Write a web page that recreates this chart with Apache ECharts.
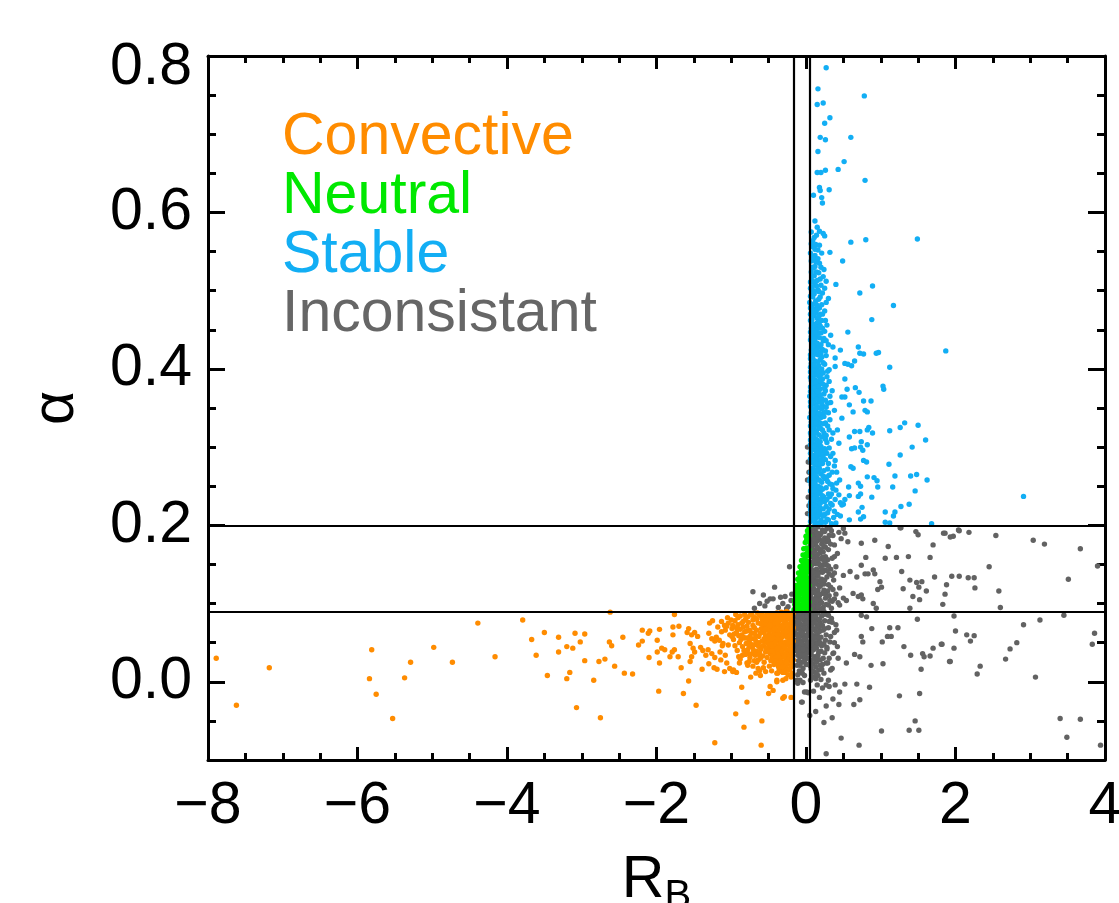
<!DOCTYPE html>
<html>
<head>
<meta charset="utf-8">
<title>Stability classes: alpha vs bulk Richardson number</title>
<script src="https://cdn.jsdelivr.net/npm/echarts@6/dist/echarts.min.js"></script>
<style>
  html, body { margin: 0; padding: 0; background: #ffffff; }
  #chart { width: 1119px; height: 903px; }
</style>
</head>
<body>
<div id="chart"></div>
<script>
// ---- class names and colours ----
const classNames = ['Convective', 'Neutral', 'Stable', 'Inconsistant'];
const classColors = ['#FF8C00', '#00F000', '#12AEF4', '#626262'];
const legendColors = ['#FF8C00', '#00E800', '#12AEF4', '#666666'];

// ---- axis ranges and tick labels ----
const xRange = [-8, 4];
const yRange = [-0.1, 0.8];
const xMajorStep = 2;
const yMajorLabels = [0, 0.2, 0.4, 0.6, 0.8];
const yMinorStep = 0.05;

// ---- classification thresholds ----
const rbThresholds = [-0.17, 0.05];
const alphaThresholds = [0.09, 0.2];

// ---- Stable (R_B > threshold, alpha > 0.2): dense core ----
const stableCore = [
  [0.07,0.575],[0.11,0.568],[0.14,0.571],[0.09,0.556],[0.16,0.552],[0.12,0.545],[0.21,0.548],[0.07,0.538],[0.18,0.535],[0.10,0.529],
  [0.14,0.524],[0.24,0.527],[0.08,0.518],[0.19,0.515],[0.12,0.509],[0.27,0.512],[0.06,0.503],[0.16,0.501],[0.22,0.497],[0.09,0.492],
  [0.13,0.487],[0.30,0.490],[0.07,0.480],[0.18,0.478],[0.25,0.474],
  [0.06,0.470],[0.10,0.468],[0.15,0.465],[0.21,0.462],[0.08,0.458],[0.12,0.455],[0.17,0.452],[0.28,0.456],[0.06,0.447],[0.11,0.444],
  [0.14,0.441],[0.20,0.446],[0.24,0.439],[0.33,0.443],[0.08,0.435],[0.13,0.432],[0.17,0.429],[0.07,0.424],[0.10,0.421],[0.16,0.418],
  [0.22,0.425],[0.27,0.417],[0.06,0.413],[0.12,0.410],[0.19,0.412],[0.09,0.404],[0.14,0.401],[0.25,0.406],[0.31,0.399],[0.06,0.396],
  [0.11,0.393],[0.18,0.390],[0.08,0.463],[0.13,0.472],[0.18,0.440],[0.23,0.408],[0.10,0.433],[0.15,0.476],[0.36,0.428],[0.07,0.385],
  [0.12,0.386],[0.16,0.382],[0.22,0.387],[0.27,0.379],[0.06,0.377],[0.09,0.373],[0.14,0.370],[0.19,0.374],[0.24,0.368],[0.35,0.372],
  [0.07,0.364],[0.11,0.361],[0.17,0.358],[0.21,0.362],[0.29,0.356],[0.06,0.352],[0.09,0.349],[0.13,0.346],[0.18,0.350],[0.23,0.343],
  [0.38,0.347],[0.08,0.339],[0.12,0.336],[0.16,0.333],[0.20,0.338],[0.26,0.331],[0.32,0.335],[0.06,0.327],[0.10,0.324],[0.14,0.321],
  [0.19,0.325],[0.24,0.318],[0.42,0.322],[0.07,0.315],[0.11,0.312],[0.15,0.309],[0.21,0.313],[0.28,0.306],[0.34,0.310],[0.06,0.303],
  [0.09,0.300],[0.13,0.297],[0.17,0.301],[0.22,0.295],[0.10,0.380],[0.15,0.365],[0.08,0.355],[0.26,0.360],[0.12,0.342],[0.30,0.344],
  [0.09,0.330],[0.17,0.316],[0.12,0.304],[0.25,0.298],[0.44,0.305],[0.31,0.384],[0.07,0.390],[0.19,0.361],[0.05,0.338],[0.36,0.318],
  [0.06,0.292],[0.10,0.289],[0.15,0.286],[0.19,0.290],[0.26,0.284],[0.33,0.288],[0.07,0.280],[0.12,0.277],[0.17,0.274],[0.22,0.279],
  [0.29,0.272],[0.38,0.276],[0.06,0.268],[0.09,0.265],[0.14,0.262],[0.20,0.266],[0.25,0.260],[0.31,0.264],[0.08,0.256],[0.12,0.253],
  [0.16,0.250],[0.21,0.255],[0.27,0.248],[0.35,0.252],[0.45,0.258],[0.06,0.244],[0.10,0.241],[0.14,0.238],[0.19,0.243],[0.24,0.236],
  [0.30,0.240],[0.40,0.245],[0.07,0.232],[0.11,0.229],[0.16,0.226],[0.21,0.231],[0.27,0.224],[0.33,0.228],[0.52,0.233],[0.06,0.220],
  [0.09,0.217],[0.13,0.214],[0.18,0.219],[0.23,0.212],[0.29,0.216],[0.37,0.210],[0.08,0.208],[0.12,0.205],[0.16,0.203],[0.20,0.207],
  [0.26,0.204],[0.34,0.202],[0.42,0.214],[0.10,0.297],[0.13,0.270],[0.09,0.247],[0.18,0.233],[0.11,0.222],[0.24,0.270],[0.15,0.258],
  [0.48,0.226],[0.57,0.249],[0.41,0.268],[0.07,0.210],[0.22,0.246],[0.14,0.210],[0.32,0.237],[0.05,0.257],[0.44,0.239],[0.36,0.292],
  [0.08,0.495],[0.11,0.483],[0.06,0.462],[0.13,0.450],[0.09,0.438],[0.16,0.427],[0.06,0.418],[0.12,0.397],[0.17,0.404],[0.09,0.388],
  [0.14,0.377],[0.08,0.367],[0.12,0.355],[0.16,0.341],[0.07,0.344],[0.10,0.334],[0.14,0.328],[0.08,0.320],[0.12,0.318],[0.16,0.306],
  [0.07,0.296],[0.12,0.284],[0.17,0.281],[0.09,0.273],[0.16,0.268],[0.11,0.260],[0.07,0.252],[0.18,0.258],[0.13,0.244],[0.08,0.237],
  [0.15,0.232],[0.10,0.225],[0.19,0.222],[0.06,0.214],[0.15,0.218],[0.10,0.211],[0.18,0.202],[0.06,0.205],[0.13,0.291],[0.19,0.296],
  [0.08,0.302],[0.19,0.331],[0.05,0.365],[0.10,0.357],[0.06,0.402],[0.11,0.428],[0.14,0.458],[0.05,0.485],[0.09,0.512],[0.17,0.523],
  [0.06,0.548],[0.10,0.541],[0.13,0.559],[0.08,0.530],[0.15,0.537],[0.11,0.519],[0.06,0.511],[0.14,0.506],[0.20,0.507],[0.10,0.500],
  [0.17,0.489],[0.06,0.493],[0.12,0.476],[0.21,0.482],[0.09,0.470],[0.16,0.460],[0.19,0.470],[0.07,0.452],[0.10,0.449],[0.15,0.446],
  [0.22,0.452],[0.06,0.437],[0.12,0.438],[0.15,0.433],[0.20,0.431],[0.08,0.427],[0.13,0.419],[0.19,0.421],[0.09,0.414],[0.16,0.409],
  [0.21,0.400],[0.07,0.407],[0.10,0.398],[0.14,0.392],[0.20,0.393],[0.06,0.389],[0.11,0.375],[0.17,0.378],[0.07,0.371],[0.13,0.362],
  [0.19,0.367],[0.06,0.358],[0.10,0.345],[0.15,0.352],[0.21,0.349],[0.07,0.332],[0.14,0.338],[0.18,0.324],[0.06,0.318],[0.10,0.313],
  [0.13,0.310],[0.19,0.307],[0.08,0.307],[0.15,0.297],[0.06,0.285],[0.09,0.282],[0.14,0.279],[0.20,0.284],[0.08,0.269],[0.12,0.264],
  [0.18,0.272],[0.06,0.260],[0.10,0.254],[0.14,0.250],[0.20,0.248],[0.07,0.244],[0.12,0.236],[0.17,0.240],[0.06,0.229],[0.09,0.226],
  [0.14,0.224],[0.20,0.214],[0.08,0.216],[0.12,0.201],[0.16,0.212],[0.23,0.221],[0.25,0.230],[0.28,0.262],[0.23,0.289],[0.27,0.315],
  [0.24,0.330],[0.22,0.353],[0.26,0.372],[0.23,0.395],[0.20,0.419],[0.23,0.436],[0.18,0.460],[0.17,0.499],[0.13,0.537],[0.09,0.564],
  [0.32,0.253],[0.35,0.226],[0.30,0.207],[0.39,0.233],[0.28,0.292],[0.31,0.322],[0.26,0.345],[0.29,0.397],[0.27,0.436],[0.08,0.477],
  [0.07,0.560],[0.12,0.553],[0.18,0.558],[0.09,0.543],[0.16,0.541],[0.20,0.530],[0.07,0.524],[0.12,0.531],[0.23,0.518],[0.08,0.505],
  [0.15,0.513],[0.25,0.503],[0.11,0.496],[0.19,0.492],[0.27,0.485],[0.06,0.478],[0.14,0.482],[0.22,0.470],[0.10,0.474],[0.26,0.462],
  [0.17,0.467],[0.07,0.441],[0.12,0.447],[0.19,0.455],[0.25,0.448],[0.30,0.431],[0.09,0.429],[0.14,0.424],[0.21,0.415],[0.26,0.423],
  [0.07,0.416],[0.11,0.405],[0.17,0.397],[0.22,0.381],[0.28,0.390],[0.08,0.394],[0.13,0.383],[0.18,0.385],[0.25,0.376],[0.32,0.365],
  [0.06,0.371],[0.10,0.366],[0.16,0.371],[0.21,0.356],[0.27,0.351],[0.33,0.357],[0.07,0.357],[0.12,0.349],[0.18,0.343],[0.24,0.339],
  [0.29,0.327],[0.09,0.342],[0.13,0.331],[0.22,0.322],[0.26,0.310],[0.31,0.299],[0.06,0.309],[0.11,0.301],[0.16,0.292],[0.20,0.301],
  [0.26,0.294],[0.30,0.279],[0.08,0.289],[0.14,0.271],[0.19,0.278],[0.23,0.263],[0.29,0.256],[0.35,0.268],[0.07,0.261],[0.12,0.245],
  [0.17,0.248],[0.22,0.238],[0.28,0.233],[0.34,0.240],[0.09,0.233],[0.13,0.219],[0.19,0.228],[0.25,0.214],[0.31,0.221],[0.38,0.218],
  [0.06,0.224],[0.11,0.207],[0.17,0.217],[0.22,0.204],[0.28,0.208],[0.40,0.203],[0.46,0.212],[0.36,0.247],[0.39,0.283],[0.41,0.254]
];

// ---- Stable: scattered points ----
const stableSpread = [
  [0.27,0.785],[0.16,0.758],[0.78,0.749],[0.15,0.738],[0.23,0.740],[0.32,0.721],[0.25,0.714],[0.19,0.696],[0.26,0.693],[0.60,0.696],
  [0.16,0.678],[0.51,0.665],[0.15,0.651],[0.20,0.651],[0.26,0.654],[0.43,0.655],[0.79,0.641],[0.18,0.632],[0.19,0.628],[0.31,0.629],
  [0.10,0.622],[0.21,0.619],[0.22,0.612],[0.12,0.589],[0.15,0.581],[0.18,0.576],[0.23,0.573],[0.25,0.570],[0.60,0.562],[0.80,0.565],
  [1.49,0.566],[0.49,0.538],[0.32,0.549],[0.89,0.506],[0.72,0.497],[0.40,0.508],[1.17,0.481],[0.88,0.463],[0.56,0.447],[1.87,0.423],
  [0.70,0.428],[0.72,0.420],[0.77,0.419],[0.46,0.424],[0.94,0.420],[0.97,0.421],[0.52,0.407],[0.56,0.406],[0.61,0.404],[0.65,0.410],
  [1.12,0.402],[0.39,0.414],[0.39,0.403],[1.03,0.378],[1.04,0.374],[0.52,0.387],[0.66,0.376],[0.71,0.370],[0.55,0.374],[0.48,0.364],
  [0.52,0.364],[0.77,0.359],[0.87,0.359],[0.58,0.354],[0.79,0.347],[0.82,0.345],[0.63,0.345],[0.48,0.337],[1.32,0.331],[1.26,0.325],
  [1.50,0.328],[1.12,0.321],[0.84,0.325],[0.82,0.322],[0.89,0.318],[0.65,0.320],[0.72,0.320],[0.58,0.313],[1.60,0.309],[1.42,0.300],
  [0.74,0.307],[0.73,0.300],[0.76,0.296],[0.82,0.303],[0.61,0.298],[0.65,0.299],[1.26,0.290],[0.77,0.283],[0.81,0.281],[1.11,0.278],
  [0.60,0.275],[0.63,0.273],[1.19,0.263],[1.40,0.263],[1.48,0.265],[1.62,0.258],[0.82,0.262],[0.91,0.261],[0.95,0.257],[0.70,0.254],
  [0.73,0.250],[0.96,0.249],[1.16,0.249],[1.46,0.244],[0.88,0.236],[0.70,0.237],[0.73,0.240],[0.58,0.238],[1.38,0.227],[1.27,0.224],
  [1.19,0.217],[1.17,0.212],[1.06,0.217],[0.75,0.223],[0.70,0.217],[0.77,0.211],[0.73,0.208],[0.58,0.207],[0.50,0.227],[0.46,0.229],
  [1.12,0.203],[1.06,0.204],[1.68,0.202],[2.91,0.237]
];

// ---- Neutral (between R_B thresholds, 0.09 < alpha < 0.2) ----
const neutralPoints = [
  [-0.16,0.092],[-0.12,0.093],[-0.08,0.091],[-0.04,0.094],[0.00,0.092],[0.04,0.093],[-0.15,0.099],[-0.11,0.100],[-0.07,0.098],[-0.03,0.101],
  [0.01,0.099],[0.04,0.102],[-0.14,0.107],[-0.10,0.108],[-0.06,0.106],[-0.02,0.109],[0.02,0.107],[-0.14,0.115],[-0.10,0.116],[-0.05,0.114],
  [-0.01,0.117],[0.03,0.115],[-0.13,0.123],[-0.09,0.124],[-0.04,0.122],[0.00,0.125],[0.04,0.123],[-0.11,0.131],[-0.07,0.132],[-0.03,0.130],
  [0.01,0.133],[-0.10,0.139],[-0.06,0.140],[-0.02,0.138],[0.03,0.141],[-0.08,0.147],[-0.04,0.148],[0.00,0.146],[0.04,0.149],[-0.06,0.155],
  [-0.02,0.156],[0.02,0.154],[-0.04,0.162],[0.00,0.163],[0.04,0.161],[-0.03,0.170],[0.01,0.171],[0.04,0.169],[-0.01,0.178],[0.03,0.179],
  [0.00,0.186],[0.04,0.187],[0.02,0.193],[0.04,0.198],[-0.15,0.104],[-0.12,0.119],[0.02,0.120],
  [-0.14,0.096],[-0.10,0.096],[-0.06,0.095],[-0.02,0.097],[0.02,0.096],[-0.13,0.103],[-0.09,0.104],[-0.04,0.104],[0.00,0.103],[-0.12,0.111],
  [-0.08,0.112],[-0.03,0.111],[0.01,0.112],[-0.11,0.120],[-0.07,0.119],[-0.02,0.121],[-0.09,0.128],[-0.05,0.127],[0.02,0.128],[-0.08,0.135],
  [-0.04,0.135],[0.00,0.137],[-0.06,0.143],[-0.02,0.143],[0.02,0.146],[-0.04,0.152],[0.00,0.152],[-0.01,0.159],[0.02,0.165],[0.01,0.182],
  [0.03,0.190]
];

// ---- Convective (R_B < threshold, alpha < 0.09): dense core ----
const convectiveCore = [
  [-0.19,0.087],[-0.24,0.085],[-0.30,0.088],[-0.36,0.086],[-0.42,0.084],[-0.48,0.087],[-0.55,0.083],[-0.21,0.080],[-0.27,0.078],[-0.33,0.081],
  [-0.39,0.077],[-0.45,0.079],[-0.51,0.076],[-0.58,0.078],[-0.18,0.073],[-0.23,0.071],[-0.29,0.074],[-0.35,0.070],[-0.41,0.072],[-0.47,0.069],
  [-0.53,0.071],[-0.60,0.068],[-0.20,0.065],[-0.26,0.063],[-0.31,0.066],[-0.37,0.062],[-0.43,0.064],[-0.49,0.061],[-0.56,0.063],[-0.18,0.058],
  [-0.22,0.056],[-0.28,0.059],[-0.34,0.055],[-0.40,0.057],[-0.46,0.053],[-0.52,0.056],[-0.59,0.052],[-0.20,0.049],[-0.25,0.047],[-0.31,0.050],
  [-0.37,0.046],[-0.43,0.048],[-0.50,0.044],[-0.57,0.046],[-0.18,0.041],[-0.23,0.039],[-0.29,0.042],[-0.35,0.038],[-0.41,0.040],[-0.48,0.036],
  [-0.54,0.038],[-0.21,0.032],[-0.27,0.030],[-0.33,0.033],[-0.39,0.029],[-0.45,0.031],[-0.19,0.024],[-0.25,0.022],[-0.31,0.025],[-0.37,0.020],
  [-0.22,0.015],[-0.28,0.012],[-0.20,0.006],[-0.33,0.089],[-0.26,0.090],
  [-0.22,0.083],[-0.28,0.076],[-0.34,0.084],[-0.38,0.073],[-0.44,0.075],[-0.50,0.081],[-0.24,0.068],[-0.30,0.061],[-0.36,0.058],[-0.42,0.060],
  [-0.47,0.066],[-0.54,0.059],[-0.21,0.053],[-0.27,0.051],[-0.33,0.044],[-0.39,0.053],[-0.44,0.042],[-0.51,0.049],[-0.24,0.036],[-0.30,0.035],
  [-0.36,0.041],[-0.42,0.034],[-0.23,0.027],[-0.29,0.020],[-0.35,0.027],[-0.41,0.024],[-0.26,0.016],[-0.33,0.016],[-0.18,0.035],[-0.18,0.066],
  [-0.18,0.080],
  [-0.62,0.085],[-0.68,0.082],[-0.74,0.086],[-0.81,0.080],[-0.88,0.084],[-0.95,0.078],[-0.64,0.075],[-0.71,0.072],[-0.77,0.076],[-0.84,0.070],
  [-0.91,0.073],[-0.99,0.068],[-0.66,0.066],[-0.73,0.062],[-0.79,0.065],[-0.86,0.060],[-0.93,0.063],[-0.63,0.058],[-0.69,0.055],[-0.76,0.052],
  [-0.82,0.056],[-0.89,0.050],[-0.97,0.054],[-0.65,0.047],[-0.72,0.044],[-0.78,0.041],[-0.85,0.045],[-0.92,0.040],[-0.62,0.038],[-0.68,0.034],
  [-0.75,0.031],[-0.81,0.035],[-0.88,0.029],[-0.66,0.025],[-0.71,0.020],[-0.79,0.024],[-0.61,0.030],[-0.67,0.011],[-0.74,0.006],[-1.05,0.082],
  [-1.02,0.060],[-1.08,0.066],[-1.12,0.046],[-1.04,0.047],[-1.18,0.070],[-1.25,0.078],[-1.20,0.057],
  [-0.17,0.088],[-0.27,0.086],[-0.39,0.088],[-0.45,0.086],[-0.52,0.087],[-0.58,0.085],[-0.20,0.076],[-0.25,0.082],[-0.31,0.079],[-0.36,0.077],
  [-0.42,0.080],[-0.48,0.076],[-0.55,0.074],[-0.17,0.069],[-0.22,0.063],[-0.27,0.070],[-0.32,0.072],[-0.39,0.066],[-0.44,0.069],[-0.51,0.066],
  [-0.57,0.069],[-0.19,0.061],[-0.25,0.057],[-0.33,0.061],[-0.38,0.055],[-0.45,0.058],[-0.50,0.054],[-0.55,0.051],[-0.17,0.052],[-0.22,0.046],
  [-0.28,0.048],[-0.34,0.050],[-0.40,0.045],[-0.46,0.044],[-0.53,0.043],[-0.19,0.036],[-0.26,0.041],[-0.32,0.038],[-0.38,0.035],[-0.44,0.036],
  [-0.50,0.039],[-0.17,0.028],[-0.22,0.034],[-0.28,0.026],[-0.34,0.030],[-0.40,0.031],[-0.47,0.027],[-0.20,0.019],[-0.25,0.028],[-0.31,0.012],
  [-0.36,0.017],[-0.43,0.022],[-0.18,0.011],[-0.24,0.009],[-0.27,0.004],[-0.65,0.088],[-0.71,0.079],[-0.78,0.083],[-0.84,0.077],[-0.91,0.082],
  [-0.69,0.069],[-0.75,0.066],[-0.82,0.064],[-0.88,0.067],[-0.96,0.061],[-0.61,0.062],[-0.67,0.059],[-0.73,0.055],[-0.80,0.049],[-0.87,0.054],
  [-0.63,0.050],[-0.70,0.047],[-0.76,0.045],[-0.83,0.040],[-0.60,0.042],[-0.66,0.039],[-0.72,0.036],[-0.64,0.028],[-0.69,0.027],[-0.58,0.033],
  [-0.56,0.025],[-0.52,0.031],[-0.49,0.020],[-0.54,0.013],[-0.61,0.008],[-0.57,0.018],[-0.46,0.014],[-1.00,0.079],[-1.06,0.071],[-0.99,0.058],
  [-0.18,0.084],[-0.23,0.088],[-0.29,0.083],[-0.35,0.080],[-0.40,0.083],[-0.46,0.082],[-0.53,0.079],[-0.59,0.081],[-0.19,0.070],[-0.25,0.074],
  [-0.31,0.070],[-0.36,0.067],[-0.42,0.068],[-0.48,0.072],[-0.55,0.067],[-0.21,0.060],[-0.27,0.064],[-0.32,0.057],[-0.38,0.060],[-0.44,0.055],
  [-0.49,0.058],[-0.56,0.055],[-0.19,0.045],[-0.24,0.051],[-0.30,0.045],[-0.35,0.048],[-0.41,0.051],[-0.47,0.048],[-0.21,0.040],[-0.27,0.036],
  [-0.33,0.039],[-0.38,0.043],[-0.45,0.039],[-0.23,0.031],[-0.29,0.032],[-0.37,0.033],[-0.43,0.027],[-0.19,0.029],[-0.26,0.024],[-0.33,0.022],
  [-0.66,0.080],[-0.72,0.085],[-0.79,0.071],[-0.86,0.075],[-0.93,0.069],[-0.69,0.062],[-0.75,0.058],[-0.84,0.057],[-0.90,0.059],[-0.67,0.052],
  [-0.74,0.048],[-0.79,0.056],[-0.70,0.040],[-0.77,0.036],[-0.85,0.034],[-0.63,0.045],[-0.60,0.074],[-0.63,0.035],[-0.95,0.046],[-0.82,0.086]
];

// ---- Convective: scattered points ----
const convectiveSpread = [
  [-7.89,0.030],[-7.62,-0.030],[-7.18,0.018],[-5.81,0.041],[-5.84,0.004],[-5.75,-0.016],[-5.53,-0.047],[-5.37,0.005],[-5.29,0.025],[-4.98,0.044],
  [-4.73,0.025],[-4.39,0.075],[-4.16,0.032],[-3.79,0.079],[-3.67,0.054],[-3.50,0.063],[-3.61,0.034],[-3.46,0.008],[-3.31,0.057],[-3.31,0.038],
  [-3.07,-0.033],[-2.75,-0.046],
  [-1.76,0.086],[-0.94,0.086],[-2.62,0.089],[-3.09,0.062],[-2.96,0.061],[-3.02,0.051],[-3.20,0.045],[-3.12,0.043],[-2.96,0.027],[-2.77,0.026],
  [-2.69,0.029],[-2.56,0.020],[-3.16,0.012],[-3.20,0.004],[-2.84,0.002],[-2.43,0.011],[-2.32,0.010],[-2.63,0.051],[-2.60,0.046],[-2.45,0.057],
  [-2.19,0.066],[-2.11,0.062],[-2.09,0.065],[-2.24,0.047],[-2.19,0.052],[-1.99,0.053],[-1.96,0.067],[-1.99,0.038],[-1.93,0.043],[-1.89,0.041],
  [-2.10,0.031],[-1.96,0.024],[-1.78,0.070],[-1.70,0.071],[-1.78,0.060],[-1.76,0.041],[-1.79,0.038],[-1.82,0.032],[-1.71,0.032],[-1.67,0.018],
  [-1.57,0.068],[-1.59,0.063],[-1.53,0.060],[-1.49,0.063],[-1.45,0.058],[-1.55,0.049],[-1.51,0.043],[-1.49,0.038],[-1.53,0.032],[-1.55,0.026],
  [-1.57,0.001],[-1.97,-0.012],[-1.64,-0.015],[-1.47,-0.030],[-1.39,0.016],[-1.29,0.075],[-1.30,0.062],[-1.26,0.055],[-1.22,0.052],[-1.41,0.044],
  [-1.38,0.040],[-1.31,0.041],[-1.34,0.034],[-1.26,0.036],[-1.22,0.031],[-1.30,0.023],[-1.23,0.018],[-1.19,0.016],[-1.13,0.077],[-1.09,0.072],
  [-1.04,0.075],[-0.98,0.072],[-1.13,0.064],[-1.16,0.053],[-1.11,0.049],[-1.15,0.038],[-1.08,0.034],[-1.14,0.028],[-1.06,0.024],[-1.02,0.017],
  [-1.09,0.013],[-0.97,0.015],[-0.89,0.024],[-0.90,0.032],[-0.86,-0.007],[-0.79,-0.026],[-0.94,-0.041],[-0.83,-0.058],[-0.59,-0.050],[-0.60,-0.081],
  [-1.22,-0.078],[-0.64,0.017],[-0.62,0.014],[-0.48,-0.006],[-0.50,-0.015],[-0.44,-0.011],[-0.39,0.011],[-0.39,0.002],[-0.36,0.013],[-0.31,0.002],
  [-0.22,0.016],[-0.29,-0.019],[-0.20,-0.020],[-0.76,0.026],[-0.78,0.021],[-0.93,0.012],[-0.98,0.013],[-0.35,0.024],[-0.31,0.019],[-0.38,0.011],
  [-0.39,0.000],[-0.31,-0.021]
];

// ---- Inconsistant: column between the R_B thresholds, alpha < 0.09 ----
const inconsistentColumn = [
  [-0.15,0.086],[-0.10,0.087],[-0.05,0.085],[0.00,0.086],[0.04,0.087],[-0.13,0.080],[-0.08,0.081],[-0.03,0.079],[0.02,0.080],[-0.16,0.074],
  [-0.11,0.075],[-0.06,0.073],[-0.01,0.074],[0.04,0.072],[-0.14,0.067],[-0.09,0.068],[-0.04,0.066],[0.01,0.067],[-0.16,0.060],[-0.12,0.061],
  [-0.07,0.059],[-0.02,0.060],[0.03,0.061],[-0.14,0.053],[-0.09,0.054],[-0.05,0.052],[0.00,0.053],[0.04,0.051],[-0.12,0.046],[-0.07,0.045],
  [-0.03,0.047],[0.02,0.045],[-0.10,0.039],[-0.05,0.038],[-0.01,0.040],[0.03,0.037],[-0.13,0.040],[-0.08,0.032],[-0.03,0.031],[0.01,0.030],
  [-0.06,0.025],[0.00,0.022],[-0.10,0.027],[-0.04,0.017],
  [-0.16,0.089],[-0.12,0.084],[-0.08,0.088],[-0.03,0.083],[0.02,0.084],[-0.14,0.077],[-0.09,0.076],[-0.04,0.072],[0.01,0.076],[-0.12,0.070],
  [-0.07,0.064],[-0.02,0.069],[0.03,0.065],[-0.15,0.064],[-0.10,0.058],[-0.05,0.062],[0.01,0.058],[-0.16,0.050],[-0.11,0.050],[-0.07,0.049],
  [-0.02,0.055],[0.02,0.049],[-0.15,0.044],[-0.09,0.043],[-0.04,0.042],[0.04,0.041],[-0.11,0.034],[-0.06,0.034],[-0.01,0.034],[0.04,0.030],
  [-0.08,0.021],[-0.02,0.026],[0.03,0.022],[-0.12,0.021],[-0.05,0.011],
  [-0.08,0.002],[-0.11,-0.002],[-0.11,0.009],[-0.12,0.002],[-0.04,-0.001],[-0.02,-0.013],[0.01,-0.013],[-0.06,-0.026],[-0.05,-0.026],[0.03,-0.014],
  [0.05,-0.043],[-0.09,0.014],[-0.02,0.008],
  [0.02,0.215],[0.03,0.236],[0.02,0.258],[0.03,0.281],[0.02,0.300],[0.04,0.225],[0.04,0.268]
];

// ---- Inconsistant: left of the R_B threshold with alpha above 0.09 ----
const inconsistentLeft = [
  [-0.71,0.115],[-0.42,0.121],[-0.57,0.111],[-0.48,0.106],[-0.44,0.106],[-0.34,0.108],[-0.28,0.109],[-0.62,0.100],[-0.55,0.097],[-0.69,0.094],
  [-0.31,0.100],[-0.24,0.096],[-0.22,0.147],[-0.20,0.104],[-0.26,0.093],[-0.37,0.095],[-0.19,0.112],[-0.52,0.103]
];

// ---- Inconsistant: right of the R_B threshold, alpha < 0.2: dense core ----
const inconsistentCore = [
  [0.07,0.197],[0.11,0.195],[0.16,0.198],[0.22,0.194],[0.28,0.196],[0.34,0.193],[0.09,0.189],[0.13,0.186],[0.19,0.188],[0.25,0.184],
  [0.31,0.187],[0.06,0.181],[0.10,0.178],[0.15,0.180],[0.21,0.176],[0.27,0.179],[0.38,0.175],[0.08,0.171],[0.12,0.168],[0.17,0.170],
  [0.23,0.166],[0.30,0.169],[0.06,0.162],[0.10,0.159],[0.14,0.161],[0.19,0.157],[0.26,0.160],[0.35,0.158],[0.42,0.164],[0.08,0.153],
  [0.12,0.151],[0.16,0.152],[0.22,0.149],[0.47,0.183],[0.44,0.191],[0.40,0.147],
  [0.06,0.145],[0.10,0.142],[0.14,0.144],[0.18,0.140],[0.25,0.143],[0.31,0.138],[0.07,0.136],[0.11,0.133],[0.16,0.135],[0.21,0.131],
  [0.28,0.134],[0.37,0.130],[0.06,0.127],[0.09,0.124],[0.13,0.126],[0.19,0.122],[0.24,0.125],[0.33,0.121],[0.08,0.118],[0.12,0.115],
  [0.16,0.117],[0.22,0.113],[0.29,0.116],[0.40,0.112],[0.06,0.109],[0.10,0.106],[0.14,0.108],[0.19,0.104],[0.26,0.107],[0.35,0.103],
  [0.08,0.100],[0.12,0.097],[0.17,0.099],[0.23,0.095],[0.30,0.098],[0.06,0.093],[0.11,0.091],[0.15,0.094],[0.45,0.120],[0.43,0.101],
  [0.38,0.139],[0.20,0.093],
  [0.07,0.087],[0.11,0.085],[0.16,0.088],[0.21,0.084],[0.28,0.086],[0.06,0.080],[0.09,0.077],[0.14,0.079],[0.19,0.075],[0.25,0.078],
  [0.34,0.081],[0.07,0.071],[0.12,0.068],[0.17,0.070],[0.23,0.066],[0.30,0.069],[0.06,0.062],[0.10,0.059],[0.15,0.061],[0.20,0.057],
  [0.27,0.060],[0.38,0.063],[0.08,0.053],[0.12,0.050],[0.17,0.052],[0.24,0.048],[0.32,0.051],[0.06,0.044],[0.10,0.041],[0.14,0.043],
  [0.20,0.039],[0.28,0.042],[0.07,0.035],[0.12,0.032],[0.16,0.034],[0.23,0.030],[0.36,0.036],[0.06,0.026],[0.09,0.023],[0.14,0.025],
  [0.19,0.021],[0.27,0.024],[0.07,0.016],[0.11,0.013],[0.17,0.015],[0.24,0.011],[0.08,0.006],[0.13,0.004],[0.20,0.003],[0.42,0.045],
  [0.40,0.073],[0.33,0.015],[0.15,-0.004],[0.22,-0.008],[0.10,-0.012],[0.31,-0.006],[0.18,-0.020],[0.27,-0.031],[0.13,-0.038],[0.24,-0.052],
  [0.35,-0.046],[0.30,0.085],[0.35,0.076],[0.41,0.066],[0.33,0.058],[0.38,0.050],[0.28,0.044],[0.37,0.037],[0.43,0.030],[0.29,0.024],
  [0.35,0.017],
  [0.06,0.192],[0.09,0.184],[0.14,0.191],[0.18,0.182],[0.06,0.174],[0.13,0.175],[0.19,0.165],[0.09,0.164],[0.15,0.156],[0.07,0.148],
  [0.12,0.139],[0.20,0.146],[0.08,0.130],[0.14,0.129],[0.17,0.123],[0.07,0.113],[0.10,0.120],[0.14,0.112],[0.18,0.110],[0.08,0.104],
  [0.12,0.102],[0.16,0.105],[0.09,0.094],[0.13,0.090],[0.06,0.086],[0.09,0.082],[0.13,0.083],[0.18,0.080],[0.08,0.074],[0.15,0.073],
  [0.10,0.066],[0.14,0.064],[0.19,0.065],[0.07,0.057],[0.13,0.056],[0.17,0.057],[0.09,0.047],[0.15,0.048],[0.21,0.046],[0.08,0.040],
  [0.17,0.038],[0.10,0.029],[0.19,0.028],[0.06,0.020],[0.13,0.019],[0.21,0.016],[0.10,0.006],[0.16,0.008],[0.06,0.002],[0.24,0.090],
  [0.26,0.113],[0.27,0.150],[0.24,0.173],[0.32,0.104],[0.33,0.144],[0.22,0.072],[0.26,0.053],[0.31,0.030],[0.21,0.126],[0.30,0.180],
  [0.08,0.195],[0.13,0.197],[0.20,0.190],[0.25,0.192],[0.32,0.197],[0.11,0.182],[0.17,0.185],[0.23,0.180],[0.29,0.183],[0.36,0.187],
  [0.08,0.176],[0.15,0.172],[0.20,0.169],[0.26,0.172],[0.33,0.176],[0.10,0.166],[0.16,0.163],[0.22,0.159],[0.29,0.156],[0.38,0.160],
  [0.11,0.154],[0.18,0.150],[0.24,0.155],[0.30,0.148],[0.09,0.140],[0.15,0.138],[0.22,0.140],[0.28,0.142],[0.35,0.136],[0.12,0.127],
  [0.19,0.129],[0.25,0.130],[0.30,0.124],[0.36,0.118],[0.10,0.114],[0.17,0.112],[0.24,0.117],[0.31,0.110],[0.38,0.106],[0.13,0.105],
  [0.21,0.101],[0.27,0.099],[0.34,0.094],[0.09,0.097],[0.16,0.096],[0.23,0.086],[0.31,0.077],[0.11,0.075],[0.17,0.064],[0.25,0.068],
  [0.12,0.044],[0.19,0.050],[0.25,0.037],[0.15,0.030],[0.08,0.012],[0.14,0.010],[0.22,0.022]
];

// ---- Inconsistant: scattered points ----
const inconsistentSpread = [
  [0.50,0.196],[0.52,0.190],[0.56,0.179],[0.74,0.177],[0.92,0.181],[1.10,0.173],[1.27,0.197],[1.47,0.192],[1.50,0.188],[1.86,0.190],
  [1.93,0.185],[2.04,0.194],[0.80,0.159],[1.06,0.158],[1.21,0.159],[1.37,0.160],[1.66,0.159],[1.70,0.175],[0.74,0.149],[0.68,0.134],
  [0.59,0.141],[0.50,0.136],[0.79,0.138],[0.83,0.138],[0.90,0.143],[0.92,0.138],[0.99,0.128],[0.96,0.118],[1.01,0.121],[1.28,0.141],
  [1.30,0.119],[1.39,0.130],[1.48,0.127],[1.55,0.128],[1.51,0.121],[1.61,0.116],[1.43,0.109],[1.52,0.105],[1.88,0.124],[1.86,0.112],
  [1.72,0.134],[1.95,0.135],[1.83,0.099],[1.39,0.094],[0.63,0.113],[0.70,0.109],[0.74,0.111],[0.76,0.106],[0.50,0.107],[0.54,0.104],
  [0.45,0.098],[0.90,0.100],[0.94,0.094],[1.84,0.190],[2.05,0.193],[2.18,0.191],[2.54,0.187],[3.04,0.181],[3.19,0.176],[3.67,0.170],
  [2.45,0.147],[2.05,0.135],[2.17,0.133],[2.25,0.133],[2.26,0.120],[2.58,0.116],[2.60,0.095],[3.51,0.131],[3.90,0.148],[1.26,0.197],
  [1.97,0.186],
  [1.98,0.084],[3.45,0.085],[3.13,0.079],[2.91,0.073],[2.00,0.065],[2.15,0.060],[2.25,0.059],[2.20,0.052],[1.82,0.048],[1.98,0.043],
  [2.82,0.050],[2.73,0.042],[2.67,0.029],[1.93,0.026],[2.33,0.020],[2.29,0.010],[3.07,0.006],[3.86,0.062],[3.83,0.048],[3.40,-0.047],
  [3.67,-0.048],[3.49,-0.071],[3.94,-0.081],
  [0.74,0.085],[0.81,0.083],[0.88,0.068],[1.12,0.069],[1.23,0.069],[1.09,0.058],[1.14,0.058],[1.02,0.051],[0.76,0.051],[0.74,0.058],
  [1.31,0.045],[1.49,0.080],[1.70,0.043],[1.81,0.048],[1.56,0.036],[1.58,0.032],[1.66,0.033],[1.40,0.034],[1.03,0.023],[0.87,0.021],
  [0.54,0.024],[0.65,0.035],[0.72,0.032],[1.54,0.016],[1.92,0.026],[0.85,-0.007],[0.68,-0.003],[0.52,-0.003],[0.39,-0.004],[0.36,-0.022],
  [0.44,-0.029],[0.64,-0.029],[0.72,-0.023],[0.45,-0.013],[1.25,-0.018],[1.52,-0.015],[0.27,-0.004],[0.30,0.002],[0.47,-0.072],[0.71,-0.081],
  [1.01,-0.063],[1.38,-0.062],[1.51,-0.062],[1.46,-0.050],[0.27,-0.092]
];

const stablePoints = stableCore.concat(stableSpread);
const convectivePoints = convectiveCore.concat(convectiveSpread);
const inconsistentPoints = inconsistentColumn.concat(inconsistentLeft, inconsistentCore, inconsistentSpread);

// ---- styling ----
const FONT = 'Liberation Sans, Arial, Helvetica, sans-serif';
const FS = 59;
const INK = '#000000';
const DOT = 5.4;

const lineStyle = { color: INK, width: 3 };
const tickStyle = { color: INK, width: 3 };

function minusLabel(v) {
  return v < 0 ? '\u2212' + Math.abs(v) : String(v);
}

function xAxisDef(position, withLabels) {
  return {
    type: 'value', position: position, min: xRange[0], max: xRange[1], interval: xMajorStep,
    axisLine: { show: true, onZero: false, lineStyle: lineStyle },
    axisTick: { show: true, inside: true, length: 13, lineStyle: tickStyle },
    minorTick: { show: true, splitNumber: 4, length: 7, lineStyle: tickStyle },
    splitLine: { show: false }, minorSplitLine: { show: false },
    axisLabel: withLabels ? {
      show: true, formatter: minusLabel, fontSize: FS, fontFamily: FONT, color: INK, margin: 17,
      showMinLabel: true, showMaxLabel: true, hideOverlap: false
    } : { show: false },
    name: withLabels ? '{r|R}{s|B}' : '',
    nameLocation: 'middle',
    nameGap: 85,
    nameTextStyle: {
      rich: {
        r: { fontSize: FS, fontFamily: FONT, color: INK, lineHeight: 72, verticalAlign: 'middle' },
        s: { fontSize: 40, fontFamily: FONT, color: INK, lineHeight: 72, verticalAlign: 'bottom' }
      }
    }
  };
}

function yLabel(v) {
  // the top label sits a little lower so it stays inside the frame height
  return Math.abs(v - 0.8) < 1e-9 ? '{t|0.8}' : v.toFixed(1);
}

function yMajorDef(position, withLabels) {
  return {
    type: 'value', position: position, min: yRange[0], max: yRange[1], interval: 0.1,
    axisLine: { show: true, onZero: false, lineStyle: lineStyle },
    axisTick: { show: true, inside: true, length: 17, lineStyle: tickStyle, customValues: yMajorLabels },
    minorTick: { show: false },
    splitLine: { show: false },
    axisLabel: withLabels ? {
      show: true, customValues: yMajorLabels, formatter: yLabel,
      fontSize: FS, fontFamily: FONT, color: INK, margin: 16,
      rich: { t: { fontSize: FS, fontFamily: FONT, color: INK, padding: [24, 0, 0, 0] } }
    } : { show: false },
    name: withLabels ? '\u03B1' : '',
    nameLocation: 'middle',
    nameGap: 122,
    nameRotate: 90,
    nameTextStyle: { fontSize: FS, fontFamily: FONT, color: INK }
  };
}

function yMinorDef(position) {
  return {
    type: 'value', position: position, min: yRange[0], max: yRange[1], interval: yMinorStep,
    axisLine: { show: false, onZero: false },
    axisTick: { show: true, inside: true, length: 8, lineStyle: tickStyle },
    splitLine: { show: false },
    axisLabel: { show: false }
  };
}

function scatter(name, data, color, z) {
  return {
    name: name, type: 'scatter', data: data, symbol: 'circle', symbolSize: DOT,
    itemStyle: { color: color, opacity: 1 }, z: z, silent: true
  };
}

const thresholdLines = {
  silent: true, symbol: ['none', 'none'], animation: false, z: 5,
  label: { show: false },
  lineStyle: { color: INK, width: 2.2, type: 'solid' },
  data: rbThresholds.map(function (v) { return { xAxis: v }; })
    .concat(alphaThresholds.map(function (v) { return { yAxis: v }; }))
};

const series = [
  scatter(classNames[3], inconsistentPoints, classColors[3], 2),
  scatter(classNames[0], convectivePoints, classColors[0], 3),
  scatter(classNames[1], neutralPoints, classColors[1], 3),
  scatter(classNames[2], stablePoints, classColors[2], 3)
];
series[0].markLine = thresholdLines;

const chart = echarts.init(document.getElementById('chart'), null, { renderer: 'canvas' });
chart.setOption({
  animation: false,
  backgroundColor: '#ffffff',
  grid: { left: 208, right: 14, top: 56, bottom: 143, containLabel: false, outerBoundsMode: 'none' },
  legend: {
    orient: 'vertical', left: 272, top: 103, itemGap: 0,
    itemWidth: 0, itemHeight: 0, icon: 'rect', selectedMode: false,
    textStyle: { fontSize: FS, fontFamily: FONT, lineHeight: 55.5 },
    data: classNames.map(function (n, i) {
      return { name: n, textStyle: { color: legendColors[i] } };
    })
  },
  xAxis: [xAxisDef('bottom', true), xAxisDef('top', false)],
  yAxis: [yMajorDef('left', true), yMinorDef('left'), yMajorDef('right', false), yMinorDef('right')],
  series: series
});
</script>
</body>
</html>
